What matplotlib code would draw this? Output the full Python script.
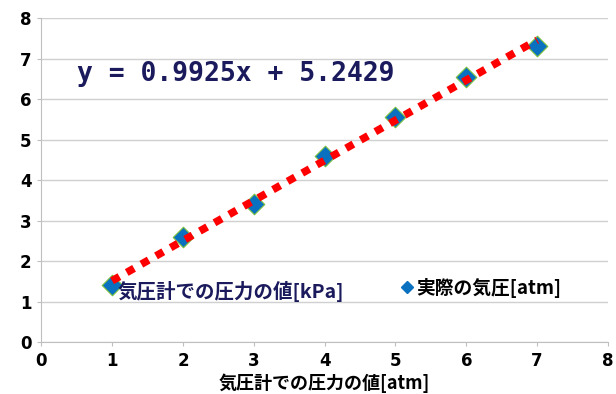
import numpy as np
import matplotlib.pyplot as plt
from matplotlib.lines import Line2D

plt.rcParams['font.family'] = ['Noto Sans CJK JP', 'DejaVu Sans']

# gauge reading vs. actual pressure
gauge_atm = [1, 2, 3, 4, 5, 6, 7]
actual_atm = [1.4, 2.6, 3.4, 4.6, 5.55, 6.55, 7.3]
x_ticks = [0, 1, 2, 3, 4, 5, 6, 7, 8]
y_ticks = [0, 1, 2, 3, 4, 5, 6, 7, 8]
eq_text = 'y = 0.9925x + 5.2429'
series_label = '実際の気圧[atm]'
point_label = '気圧計での圧力の値[kPa]'
x_label = '気圧計での圧力の値[atm]'

fig = plt.figure(figsize=(6.16, 3.94), dpi=100)
ax = fig.add_axes([0.067, 0.132, 0.92, 0.822])

# linear trendline
coef = np.polyfit(gauge_atm, actual_atm, 1)
xs = np.array([gauge_atm[0], gauge_atm[-1]])
ax.plot(xs, np.polyval(coef, xs), color='#ff0000', lw=5.5,
        linestyle=(0, (1.1, 1.1)), zorder=3)

ax.scatter(gauge_atm, actual_atm, marker='D', s=110, color='#0a70c0',
           edgecolors='#7cc040', linewidths=0.8, zorder=2)

ax.set_xlim(0, 8)
ax.set_ylim(0, 8)
ax.set_xticks(x_ticks)
ax.set_yticks(y_ticks)
ax.tick_params(axis='both', labelsize=12, length=3, color='#bfbfbf', pad=4)
for lab in ax.get_xticklabels() + ax.get_yticklabels():
    lab.set_fontweight('bold')
    lab.set_family('DejaVu Sans')

ax.grid(axis='y', color='#d0d0d0', lw=1)
ax.set_axisbelow(True)
for side in ['top', 'right']:
    ax.spines[side].set_visible(False)
for side in ['left', 'bottom']:
    ax.spines[side].set_color('#bfbfbf')

ax.set_xlabel(x_label, fontsize=13, labelpad=3, fontweight='bold')

ax.text(0.5, 6.62, eq_text, fontsize=19, color='#1a1a5c', fontweight='bold',
        family=['DejaVu Sans Mono'], va='center')
ax.text(1.08, 1.25, point_label, fontsize=14, color='#1a1a5c',
        fontweight='bold', va='center')

handle = Line2D([], [], marker='D', linestyle='none', color='#0a70c0',
                markersize=6)
ax.legend([handle], [series_label], loc='center left',
          bbox_to_anchor=(0.615, 0.068, 0.4, 0.2), frameon=False,
          handletextpad=0.0, handlelength=1.0, borderaxespad=0,
          prop={'weight': 'bold', 'size': 13.5})

fig.savefig('out.png')
